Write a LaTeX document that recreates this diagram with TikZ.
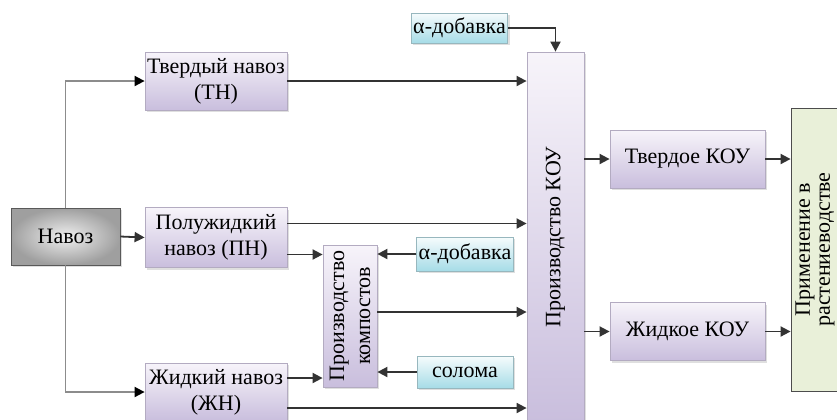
\documentclass[tikz,border=0pt]{standalone}
\usepackage{fontspec}
\setmainfont{Liberation Serif}
\usetikzlibrary{positioning,calc,arrows.meta,shadows}
\definecolor{lav}{HTML}{C9BEDD}
\definecolor{lavtop}{HTML}{F7F4FA}
\definecolor{aqua}{HTML}{A6DCE7}
\definecolor{sage}{HTML}{E9F0D9}

\begin{document}
\begin{tikzpicture}[x=0.5pt,y=-0.5pt,
	font=\fontsize{11}{13}\selectfont,
	proc/.style={draw=lav!70!gray, top color=lavtop, bottom color=lav, align=center, inner sep=1pt,
		drop shadow={opacity=0.25, shadow xshift=1pt, shadow yshift=-1pt}},
	addit/.style={draw=aqua!60!gray, top color=aqua!10, bottom color=aqua, minimum width=48pt, minimum height=16pt, inner sep=1pt,
		drop shadow={opacity=0.25, shadow xshift=1pt, shadow yshift=-1pt}},
	arr/.style={-{Triangle[length=5pt,width=5pt]}, line width=0.9pt, draw=black!80},
	feed/.style={-{Triangle[length=5pt,width=5pt,color=black]}, line width=0.9pt, draw=black!45}]
		\useasboundingbox (0,0) rectangle (837,419);
		\clip (0,0) rectangle (837,419);
		
		\node[draw=gray!70!black, shading=radial, inner color=gray!12, outer color=gray!75, minimum width=54.5pt, minimum height=28.5pt,
			drop shadow={opacity=0.25, shadow xshift=1pt, shadow yshift=-1pt}] (navoz) at (65.5,236.5) {Навоз};
		
		\node[proc, minimum width=71pt, minimum height=29pt] (tn) at (216,81) {Твердый навоз\\(ТН)};
		\node[proc, minimum width=71pt, minimum height=30pt] (pn) at (216,237.5) {Полужидкий\\навоз (ПН)};
		\node[proc, minimum width=71pt, minimum height=29pt] (zhn) at (216,392) {Жидкий навоз\\(ЖН)};
		
		\node[proc, rotate=90, minimum width=71pt, minimum height=27pt] (komp) at (350,316) {Производство\\компостов};
		\node[proc, rotate=90, minimum width=185pt, minimum height=28.5pt] (kou) at (555.5,237) {Производство КОУ};
		
		\node[addit, minimum height=15pt] (add1) at (459.5,28) {α-добавка};
		\node[addit, minimum height=17pt] (add2) at (465,254) {α-добавка};
		\node[addit] (sol) at (465,372) {солома};
		
		\node[proc, minimum width=77.5pt, minimum height=29pt] (tkou) at (687.5,159) {Твердое КОУ};
		\node[proc, minimum width=77.5pt, minimum height=29pt] (zhkou) at (687.5,331.5) {Жидкое КОУ};
		
		\node[draw=gray!60!black, fill=sage, rotate=90, align=center, minimum width=141.5pt, minimum height=24pt, inner sep=1pt,
			font=\fontsize{11}{10}\selectfont] (prim) at (815,249.5) {Применение в\\растениеводстве};
		
		\draw[feed] (navoz.north) |- (tn.west);
		\draw[feed] (navoz.south) |- (zhn.west);
		\draw[arr] (navoz.east)--(pn.west);
		
		\coordinate (pn1) at ([yshift=7pt]pn.east);
		\coordinate (pn2) at ([yshift=-8.5pt]pn.east);
		\coordinate (zhn1) at ([yshift=7pt]zhn.east);
		\coordinate (zhn2) at ([yshift=-8pt]zhn.east);
		\coordinate (komp1) at ([yshift=2pt]komp.south);
		
		\draw[arr] (tn.east)--(tn.east -| kou.north);
		\draw[arr] (pn1)--(pn1 -| kou.north);
		\draw[arr] (pn2)--(pn2 -| komp.north);
		\draw[arr] (zhn1)--(zhn1 -| komp.north);
		\draw[arr] (zhn2)--(zhn2 -| kou.north);
		\draw[arr] (add2.west)--(add2.west -| komp.south);
		\draw[arr] (sol.west)--(sol.west -| komp.south);
		\draw[arr] (komp1)--(komp1 -| kou.north);
		\draw[arr] (add1.east) -| (kou.east);
		
		\draw[arr] (tkou.west -| kou.south)--(tkou.west);
		\draw[arr] (zhkou.west -| kou.south)--(zhkou.west);
		\draw[arr] (tkou.east)--(tkou.east -| prim.north);
		\draw[arr] (zhkou.east)--(zhkou.east -| prim.north);
	\end{tikzpicture}
\end{document}
